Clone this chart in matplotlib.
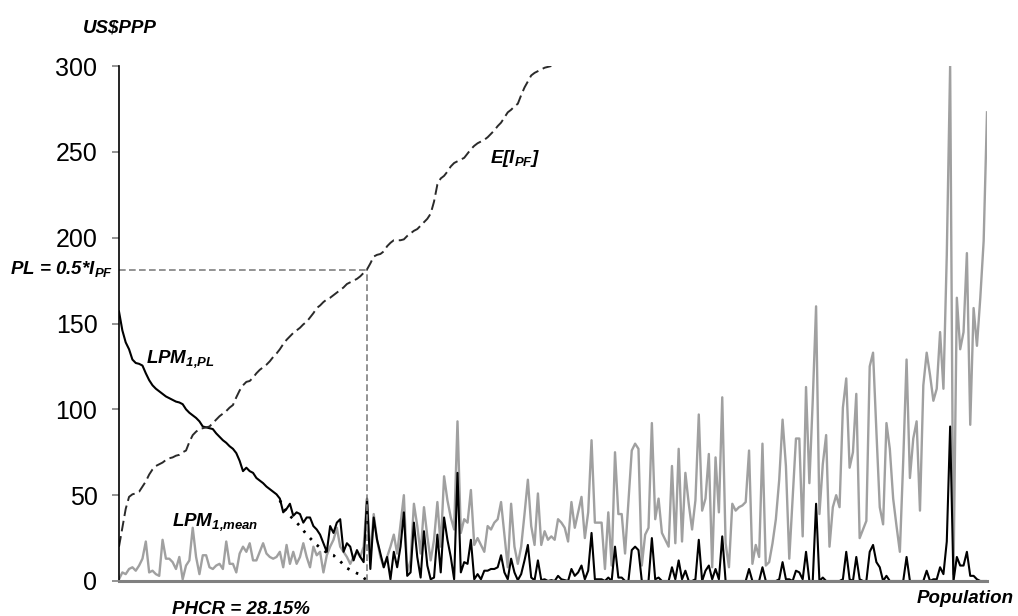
import numpy as np
import matplotlib
matplotlib.use("Agg")
import matplotlib.pyplot as plt

plt.rcParams['font.family'] = ['Liberation Sans', 'DejaVu Sans']
plt.rcParams['mathtext.fontset'] = 'custom'
plt.rcParams['mathtext.it'] = 'Liberation Sans:bold:italic'
plt.rcParams['mathtext.rm'] = 'Liberation Sans:bold:italic'
plt.rcParams['mathtext.bf'] = 'Liberation Sans:bold:italic'

# observed income of each person, population sorted left to right
income = [1, 5, 4, 7, 8, 6, 9, 13, 23, 5, 6, 4, 3, 24, 13, 13, 11, 7, 14, 1, 9, 12,
          31, 14, 4, 15, 15, 8, 7, 9, 10, 7, 23, 10, 10, 5, 16, 20, 17, 22, 12, 12, 17, 22,
          16, 14, 13, 14, 17, 8, 21, 10, 17, 10, 14, 22, 14, 8, 20, 15, 17, 5, 15, 20, 24, 31,
          20, 17, 14, 10, 14, 17, 14, 20, 48, 14, 39, 24, 14, 8, 14, 20, 27, 16, 33, 50, 5, 12,
          45, 32, 16, 43, 26, 12, 24, 46, 20, 61, 47, 37, 30, 93, 28, 36, 34, 53, 21, 25, 21,
          17, 32, 30, 34, 36, 46, 27, 8, 45, 20, 10, 20, 39, 59, 32, 21, 51, 21, 29, 24, 26, 24,
          36, 34, 31, 23, 46, 31, 40, 49, 25, 40, 82, 34, 34, 34, 7, 40, 9, 75, 39, 39, 16,
          46, 76, 80, 77, 9, 27, 31, 92, 36, 48, 28, 24, 20, 67, 22, 77, 23, 63, 45, 30,
          47, 97, 41, 48, 74, 8, 72, 40, 107, 22, 8, 45, 41, 43, 44, 46, 76, 10, 21, 14, 80, 9,
          11, 22, 36, 59, 94, 67, 13, 48, 83, 83, 26, 113, 57, 105, 160, 39, 68, 85, 20, 43, 50, 43,
          101, 118, 66, 75, 109, 25, 30, 35, 125, 133, 87, 43, 33, 92, 77, 48, 32, 17, 70, 129,
          60, 83, 93, 41, 114, 133, 120, 105, 112, 145, 112, 190, 300, 4, 165, 135, 145, 191,
          91, 159, 137, 165, 198, 273]

# LPM per person (solid black)
lpm_obs = [157, 146, 139, 135, 129, 127, 126.5, 125.5, 121, 117, 114, 112, 110.5, 109, 107.5,
           106.5, 105.5, 104.5, 104, 103, 100, 98, 96.5, 95, 93, 90, 89.5, 89, 88.5, 86, 84, 82,
           80.5, 78.5, 77, 74.5, 70, 64, 66, 64, 63, 60, 58.5, 57,
           55, 53.5, 52, 50.5, 48, 40, 42, 45, 38, 40, 39, 34, 37, 37, 32, 30, 27, 22, 17, 32,
           28, 34, 36, 17, 22, 20, 12, 18, 14, 11, 48, 7, 37, 24, 16, 8, 14, 1, 17, 8, 20, 40, 3, 5,
           34, 14, 2, 29, 9, 1, 2, 27, 5, 37, 24, 14, 1, 63, 5, 11, 10, 24, 1, 4, 1, 6, 6, 7, 7,
           8, 15, 5, 1, 13, 5, 0.5, 4, 12, 21, 2, 0.5, 12, 0.5, 1, 0, 0.5, 0,
           3, 1, 0.5, 0, 7, 3, 5, 9, 1, 6, 28, 1, 1, 1, 0, 2, 0, 20, 2, 2, 0, 0, 18, 20, 18, 0,
           0, 0, 25, 1, 2, 0, 0, 0, 8, 1, 12, 1, 6, 0, 0,
           1, 24, 0, 6, 9, 1, 7, 1, 26, 0, 0, 0, 0, 0, 0, 0, 7, 0, 0, 0, 8, 0, 0, 0, 0, 1, 11,
           1, 1, 0, 6, 5, 1, 17, 0, 0, 45, 0, 2, 0, 0, 0, 0, 0,
           1, 17, 1, 0, 14, 1, 0, 0, 17, 21, 11, 8, 0, 3, 0, 0, 0, 0, 0, 14, 0, 0, 0, 0, 0, 6,
           0, 1, 1, 8, 4, 23, 90, 0, 14, 9, 9, 17, 3, 3, 1, 0, 0, 0]

# smooth LPM tail (dotted), starting at person 48
lpm_tail_start = 48
lpm_tail = [47, 43, 40, 38, 36, 34, 32, 29.5, 27, 25, 23, 21, 19.5, 18, 16.5, 15.5, 15, 13,
            11.5, 9.5, 7.5, 6.5, 5.5, 4.5, 4, 2, 0]

# E[I_PF] (dashed)
expected_income = [20, 31, 42, 49, 50.5, 51, 52, 55, 58, 62, 65, 67, 68, 69, 70.5, 71.5, 72, 73,
                   73.5, 75, 76, 81, 85, 87, 88.5, 89, 89.5, 90, 92, 94, 96, 97.5, 99, 101,
                   102.5, 107, 111, 114, 116, 116.5, 118.5, 121, 123, 124.5, 126, 128, 130.5,
                   132.5, 135, 138, 140.5, 142.5, 144.5, 146, 147.5, 149.5, 151, 153.5, 156,
                   159, 160.5, 162.5, 164, 165, 166.5, 168, 169.5, 171, 173, 174, 175, 176,
                   177.5, 179.5, 181.5, 185, 189, 190, 190.5, 192, 195, 197, 198.5, 198.5,
                   198.5, 199, 201, 202.5, 204, 205, 207, 209, 211, 214, 221, 231, 234.5, 236,
                   238.5, 241.5, 243.5, 244.5, 245.5, 246.5, 249, 251.5, 253.5, 255, 256, 257,
                   258.5, 260.5, 262.5, 265, 267, 270, 273, 274.5, 276.5, 278, 283, 287.5, 291,
                   294.5, 296, 297, 298, 299, 299.5, 300]

poverty_line = 181
phcr_index = 74
y_ticks = [0, 50, 100, 150, 200, 250, 300]

pop = np.arange(len(income))
tail_pop = np.arange(lpm_tail_start, lpm_tail_start + len(lpm_tail))

fig = plt.figure(figsize=(10.18, 6.16), dpi=100)
ax = fig.add_axes([119 / 1018, 35 / 616, 868 / 1018, 515 / 616])

ax.plot(pop, income, color='#a0a0a0', lw=1.7)
ax.plot(tail_pop, lpm_tail, color='black', lw=2.0, linestyle=(0, (0.9, 2.6)))
ax.plot(pop, lpm_obs, color='black', lw=1.5)
ax.plot(pop[:len(expected_income)], expected_income, color='#2a2a2a', lw=1.4,
        linestyle=(0, (5.5, 2.5)))

# poverty line guides
ax.plot([0, phcr_index], [poverty_line, poverty_line], color='#808080', lw=1.2,
        linestyle=(0, (4, 2)))
ax.plot([phcr_index, phcr_index], [0, poverty_line], color='#808080', lw=1.2,
        linestyle=(0, (4, 2)))

ax.set_xlim(0, len(income) - 1)
ax.set_ylim(0, 300)
ax.set_xticks([])
ax.set_yticks(y_ticks)
ax.tick_params(axis='y', length=5, width=1.2, color='#808080', labelsize=18, pad=10.5)
ax.spines['top'].set_visible(False)
ax.spines['right'].set_visible(False)
ax.spines['left'].set_color('black')
ax.spines['left'].set_linewidth(1.2)
ax.spines['bottom'].set_color('#808080')
ax.spines['bottom'].set_linewidth(2.2)

lab = dict(fontsize=13.5, fontweight='bold', style='italic', va='baseline')
fig.text(83 / 1018, 1 - 32 / 616, "US\\$PPP", **lab)
fig.text(113 / 1018, 1 - 274 / 616, "PL = 0.5*I$_{PF}$", ha='right', **lab)
fig.text(490 / 1018, 1 - 163 / 616, "E[I$_{PF}$]", **lab)
fig.text(146 / 1018, 1 - 363 / 616, "LPM$_{1{,}PL}$", **lab)
fig.text(172 / 1018, 1 - 526 / 616, "LPM$_{1{,}mean}$", **lab)
fig.text(172 / 1018, 1 - 614 / 616, "PHCR = 28.15%", **lab)
fig.text(1014 / 1018, 1 - 603 / 616, "Population", ha='right', **lab)

fig.savefig("out.png", dpi=100)
